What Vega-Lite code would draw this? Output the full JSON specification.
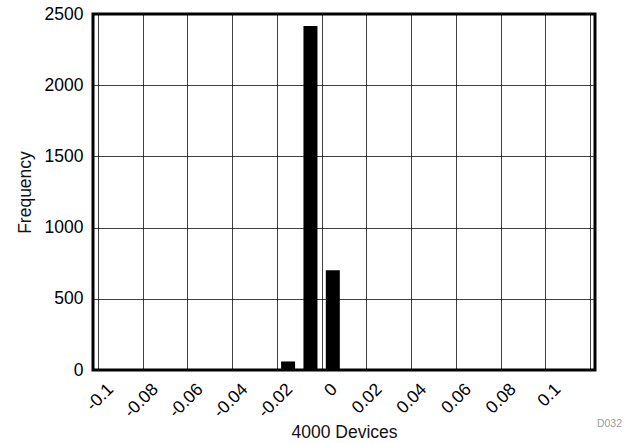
{
  "$schema": "https://vega.github.io/schema/vega-lite/v6.json",
  "width": 502,
  "height": 356,
  "autosize": {"type": "none"},
  "padding": {"left": 93, "top": 14, "right": 39, "bottom": 73},
  "background": "white",
  "title": {"text": "D032", "orient": "bottom", "anchor": "end", "frame": "group", "color": "#9a9a9a", "fontSize": 10.5, "font": "Liberation Sans", "fontWeight": "normal", "offset": -22, "dx": 27},
  "data": {"values": [
    {"center": -0.015, "frequency": 60},
    {"center": -0.005, "frequency": 2415},
    {"center": 0.005, "frequency": 700},
    {"center": 0.015, "frequency": 3}
  ]},
  "mark": {"type": "bar", "color": "black", "size": 14},
  "encoding": {
    "x": {
      "field": "center", "type": "quantitative",
      "scale": {"domain": [-0.1, 0.12], "nice": false, "zero": false},
      "axis": {
        "title": "4000 Devices",
        "values": [-0.1, -0.08, -0.06, -0.04, -0.02, 0, 0.02, 0.04, 0.06, 0.08, 0.1, 0.12],
        "labelExpr": "datum.value > 0.11 ? '' : replace(format(datum.value, '~g'), '\u2212', '-')",
        "labelAngle": -45, "labelAlign": "right", "labelBaseline": "top",
        "labelPadding": 10, "labelOffset": 6,
        "ticks": false, "domain": false,
        "grid": true, "gridColor": "black", "gridOpacity": 0.75, "gridWidth": 1,
        "labelFontSize": 17.5, "titleFontSize": 17.5,
        "titleBaseline": "alphabetic", "titleY": 67,
        "labelOverlap": false
      }
    },
    "y": {
      "field": "frequency", "type": "quantitative",
      "scale": {"domain": [0, 2500], "nice": false},
      "axis": {
        "title": "Frequency",
        "values": [0, 500, 1000, 1500, 2000, 2500],
        "format": "d",
        "ticks": false, "domain": false,
        "grid": true, "gridColor": "black", "gridOpacity": 0.75, "gridWidth": 1,
        "labelFontSize": 17.5, "titleFontSize": 17.5, "labelPadding": 10, "titlePadding": 10
      }
    }
  },
  "config": {
    "font": "Liberation Sans",
    "view": {"stroke": "black", "strokeWidth": 3},
    "axis": {"labelColor": "black", "titleColor": "#111", "titleFontWeight": "normal", "labelFont": "Liberation Sans", "titleFont": "Liberation Sans"}
  }
}
